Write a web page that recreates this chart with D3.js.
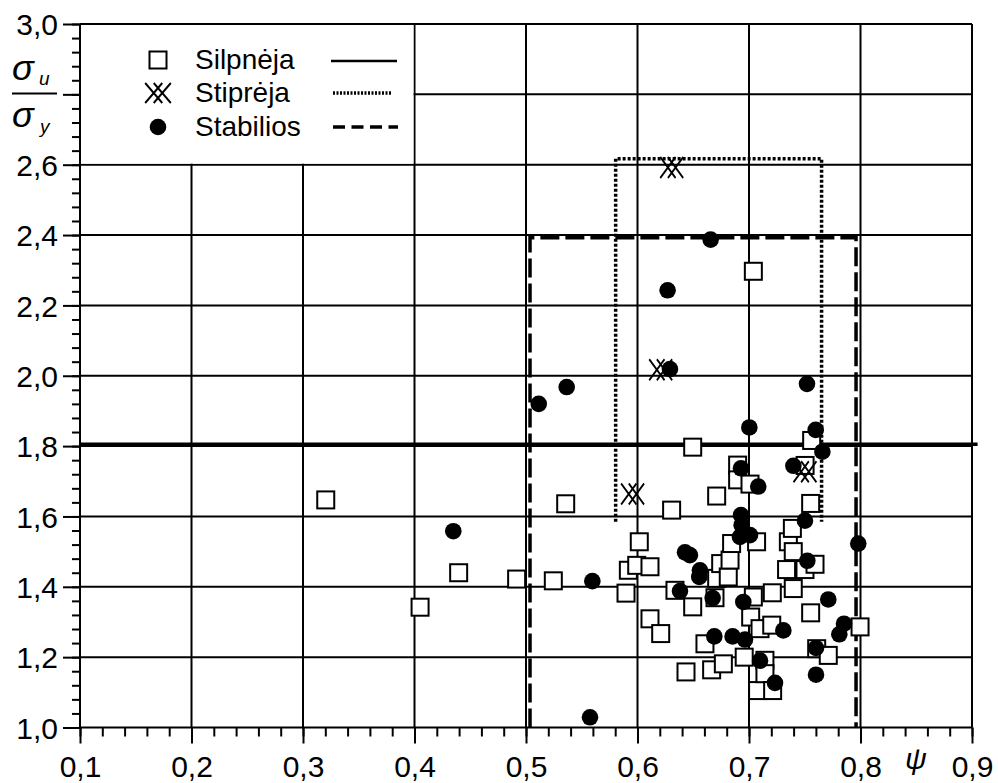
<!doctype html>
<html lang="lt">
  <head>
    <meta charset="UTF-8" />
    <title>σu/σy – ψ</title>
    <style>
      body {
        margin: 0;
        background: #fff;
      }
      svg {
        display: block;
        font-family: "Liberation Sans", Arial, sans-serif;
      }
      .grid line {
        stroke: #000;
        stroke-width: 2;
      }
      .axis path,
      .axis line {
        stroke: #000;
        stroke-width: 2;
      }
      .axis text {
        font-family: "Liberation Sans", Arial, sans-serif;
        fill: #000;
      }
    </style>
  </head>
  <body>
    <script src="https://d3js.org/d3.v7.min.js"></script>
    <script>
      // ψ values and σu/σy ratio
      const silpneja = [
        [0.3204, 1.647], [0.405, 1.342], [0.4396, 1.44], [0.4916, 1.422],
        [0.5245, 1.417], [0.5356, 1.636], [0.5897, 1.382], [0.5918, 1.447],
        [0.5993, 1.461], [0.6016, 1.528], [0.6112, 1.457], [0.6112, 1.309],
        [0.6208, 1.267], [0.6306, 1.618], [0.6336, 1.39], [0.6435, 1.158],
        [0.6495, 1.797], [0.6495, 1.343], [0.6605, 1.238], [0.6665, 1.164],
        [0.6695, 1.369], [0.671, 1.658], [0.671, 1.424], [0.6746, 1.466],
        [0.677, 1.181], [0.6814, 1.428], [0.683, 1.476], [0.6844, 1.523],
        [0.6898, 1.746], [0.6898, 1.704], [0.6957, 1.2], [0.7009, 1.692],
        [0.7039, 2.297], [0.7039, 1.371], [0.7015, 1.314], [0.7068, 1.528],
        [0.7077, 1.105], [0.7099, 1.281], [0.7143, 1.191], [0.7143, 1.153],
        [0.7204, 1.291], [0.7209, 1.383], [0.7212, 1.105], [0.7337, 1.449],
        [0.7353, 1.528], [0.7389, 1.566], [0.7397, 1.5], [0.7397, 1.395],
        [0.7503, 1.745], [0.7502, 1.449], [0.7553, 1.637], [0.7553, 1.326],
        [0.7562, 1.816], [0.7592, 1.464], [0.7607, 1.224], [0.7711, 1.205],
        [0.7996, 1.286],
      ];
      const stabilios = [
        [0.4348, 1.558], [0.5114, 1.92], [0.5365, 1.968], [0.5574, 1.029],
        [0.5595, 1.416], [0.627, 2.243], [0.6291, 2.019], [0.6381, 1.388],
        [0.6426, 1.498], [0.647, 1.49], [0.6554, 1.428], [0.656, 1.447],
        [0.6656, 2.387], [0.6674, 1.368], [0.6689, 1.259], [0.6853, 1.259],
        [0.6919, 1.542], [0.6928, 1.737], [0.6928, 1.604], [0.6934, 1.575],
        [0.6949, 1.357], [0.6964, 1.25], [0.7003, 1.853], [0.7009, 1.547],
        [0.7083, 1.685], [0.7099, 1.19], [0.7233, 1.127], [0.7308, 1.276],
        [0.7398, 1.744], [0.7502, 1.588], [0.752, 1.977], [0.7523, 1.474],
        [0.7598, 1.846], [0.7601, 1.226], [0.7601, 1.15], [0.7658, 1.784],
        [0.7711, 1.364], [0.781, 1.265], [0.7852, 1.295], [0.798, 1.523],
      ];
      const stipreja = [
        [0.5956, 1.664], [0.6208, 2.017], [0.6307, 2.592], [0.7502, 1.727],
      ];

      // boundary lines: [x0, x1, y0, y1]
      const silpnejaLine = [0.1, 0.905, 1.805, 1.805];
      const stiprejaBox = [0.5804, 0.7651, 1.585, 2.617];
      const stabiliosBox = [0.5036, 0.796, 1.0, 2.392];

      const xMajor = [0.1, 0.2, 0.3, 0.4, 0.5, 0.6, 0.7, 0.8, 0.9];
      const yMajor = [1.0, 1.2, 1.4, 1.6, 1.8, 2.0, 2.2, 2.4, 2.6, 2.8, 3.0];
      const legendNames = ["Silpnėja", "Stiprėja", "Stabilios"];

      const width = 998;
      const height = 783;

      const x = d3.scaleLinear().domain([0.1, 0.9]).range([80, 972]);
      const y = d3.scaleLinear().domain([1.0, 3.0]).range([727.5, 24]);

      const svg = d3
        .select("body")
        .append("svg")
        .attr("width", width)
        .attr("height", height);

      const fmt = (d) => d3.format(".1f")(d).replace(".", ",");

      // grid
      const grid = svg.append("g").attr("class", "grid");
      grid
        .selectAll("line.v")
        .data(xMajor)
        .join("line")
        .attr("x1", (d) => x(d))
        .attr("x2", (d) => x(d))
        .attr("y1", y(3.0))
        .attr("y2", y(1.0));
      grid
        .selectAll("line.h")
        .data(yMajor)
        .join("line")
        .attr("class", "h")
        .attr("x1", x(0.1))
        .attr("x2", x(0.9))
        .attr("y1", (d) => y(d))
        .attr("y2", (d) => y(d));

      // minor ticks (no labels)
      const xMinor = d3.range(0.1, 0.9001, 0.02);
      const yMinor = d3.range(1.0, 3.0001, 0.04);
      svg
        .append("g")
        .attr("class", "axis")
        .attr("transform", `translate(0,${y(1.0)})`)
        .call(d3.axisBottom(x).tickValues(xMinor).tickSize(9).tickFormat(""))
        .call((g) => g.select(".domain").remove());
      svg
        .append("g")
        .attr("class", "axis")
        .attr("transform", `translate(${x(0.1)},0)`)
        .call(d3.axisLeft(y).tickValues(yMinor).tickSize(8).tickFormat(""))
        .call((g) => g.select(".domain").remove());

      // major ticks with labels
      svg
        .append("g")
        .attr("class", "axis")
        .attr("transform", `translate(0,${y(1.0)})`)
        .call(d3.axisBottom(x).tickValues(xMajor).tickSize(16).tickFormat(fmt))
        .call((g) => g.select(".domain").remove())
        .attr("font-size", 30)
        .call((g) => g.selectAll("text").attr("y", 49).attr("dy", 0));
      svg
        .append("g")
        .attr("class", "axis")
        .attr("transform", `translate(${x(0.1)},0)`)
        .call(
          d3
            .axisLeft(y)
            .tickValues(yMajor)
            .tickSize(17)
            .tickPadding(5)
            .tickFormat((d) => (Math.abs(d - 2.8) < 1e-6 ? "" : fmt(d))),
        )
        .call((g) => g.select(".domain").remove())
        .attr("font-size", 30)
        .call((g) => g.selectAll("text").attr("dy", "0.36em"));

      // legend box hides grid behind it
      svg
        .append("rect")
        .attr("x", x(0.1) + 1)
        .attr("y", y(3.0) + 1)
        .attr("width", x(0.4) - x(0.1) - 2)
        .attr("height", y(2.6) - y(3.0) - 2)
        .attr("fill", "#fff");

      // boundaries
      svg
        .append("line")
        .attr("x1", x(silpnejaLine[0]))
        .attr("x2", x(silpnejaLine[1]))
        .attr("y1", y(silpnejaLine[2]))
        .attr("y2", y(silpnejaLine[3]))
        .attr("stroke", "#000")
        .attr("stroke-width", 3.5);

      const boxPath = (b) =>
        `M${x(b[0])},${y(b[2])}V${y(b[3])}H${x(b[1])}V${y(b[2])}`;

      svg
        .append("path")
        .attr("d", boxPath(stiprejaBox))
        .attr("fill", "none")
        .attr("stroke", "#000")
        .attr("stroke-width", 3.5)
        .attr("stroke-dasharray", "3,2");

      svg
        .append("path")
        .attr("d", boxPath(stabiliosBox))
        .attr("fill", "none")
        .attr("stroke", "#000")
        .attr("stroke-width", 3.5)
        .attr("stroke-dasharray", "19,6");

      // markers
      const sq = 17;
      const crossPath =
        "M-13.5,-10L4.5,10M4.5,-10L-13.5,10M-4.5,-10L13.5,10M13.5,-10L-4.5,10";

      svg
        .append("g")
        .selectAll("rect")
        .data(silpneja)
        .join("rect")
        .attr("x", (d) => x(d[0]) - sq / 2)
        .attr("y", (d) => y(d[1]) - sq / 2)
        .attr("width", sq)
        .attr("height", sq)
        .attr("fill", "#fff")
        .attr("stroke", "#000")
        .attr("stroke-width", 2);

      svg
        .append("g")
        .selectAll("circle")
        .data(stabilios)
        .join("circle")
        .attr("cx", (d) => x(d[0]))
        .attr("cy", (d) => y(d[1]))
        .attr("r", 8.3)
        .attr("fill", "#000");

      svg
        .append("g")
        .selectAll("path")
        .data(stipreja)
        .join("path")
        .attr("transform", (d) => `translate(${x(d[0])},${y(d[1])}) scale(0.85,1.05)`)
        .attr("d", crossPath)
        .attr("fill", "none")
        .attr("stroke", "#000")
        .attr("stroke-width", 2);

      // legend
      const lg = svg.append("g");
      const rowY = [60, 93, 127];
      lg.append("rect")
        .attr("x", 158 - sq / 2)
        .attr("y", rowY[0] - sq / 2)
        .attr("width", sq)
        .attr("height", sq)
        .attr("fill", "#fff")
        .attr("stroke", "#000")
        .attr("stroke-width", 2);
      lg.append("path")
        .attr("transform", `translate(158,${rowY[1]}) scale(0.95,1)`)
        .attr("d", crossPath)
        .attr("fill", "none")
        .attr("stroke", "#000")
        .attr("stroke-width", 2);
      lg.append("circle")
        .attr("cx", 158)
        .attr("cy", rowY[2])
        .attr("r", 8.3)
        .attr("fill", "#000");

      lg.selectAll("text")
        .data(legendNames)
        .join("text")
        .attr("x", 195)
        .attr("y", (d, i) => rowY[i] + 9)
        .attr("font-size", 28)
        .text((d) => d);

      lg.append("line")
        .attr("x1", 331)
        .attr("x2", 397)
        .attr("y1", 61)
        .attr("y2", 61)
        .attr("stroke", "#000")
        .attr("stroke-width", 2.5);
      lg.append("line")
        .attr("x1", 333)
        .attr("x2", 391)
        .attr("y1", 93)
        .attr("y2", 93)
        .attr("stroke", "#000")
        .attr("stroke-width", 3.5)
        .attr("stroke-dasharray", "2,1.5");
      lg.append("line")
        .attr("x1", 333)
        .attr("x2", 398)
        .attr("y1", 127)
        .attr("y2", 127)
        .attr("stroke", "#000")
        .attr("stroke-width", 3.5)
        .attr("stroke-dasharray", "12,6.5");

      // y axis title: σu / σy
      const yt = svg.append("g").attr("font-style", "italic");
      yt.append("text").attr("x", 12).attr("y", 80).attr("font-size", 36).text("σ");
      yt.append("text").attr("x", 39).attr("y", 85).attr("font-size", 19).text("u");
      yt.append("line")
        .attr("x1", 12)
        .attr("x2", 57)
        .attr("y1", 93.5)
        .attr("y2", 93.5)
        .attr("stroke", "#000")
        .attr("stroke-width", 2);
      yt.append("text").attr("x", 12).attr("y", 127).attr("font-size", 36).text("σ");
      yt.append("text").attr("x", 40).attr("y", 133).attr("font-size", 19).text("y");

      // x axis title
      svg
        .append("text")
        .attr("x", 916)
        .attr("y", 769)
        .attr("text-anchor", "middle")
        .attr("font-style", "italic")
        .attr("font-size", 30)
        .text("ψ");
    </script>
  </body>
</html>
